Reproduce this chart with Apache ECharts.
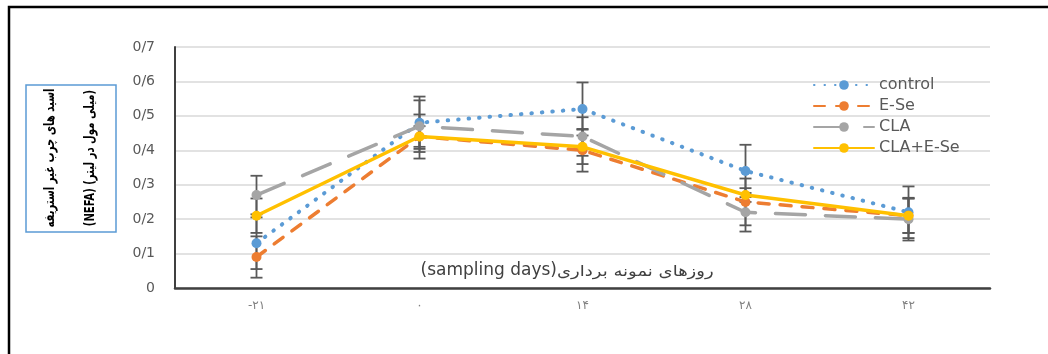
<!DOCTYPE html>
<html>
<head>
<meta charset="utf-8">
<script src="https://cdn.jsdelivr.net/npm/echarts@6/dist/echarts.min.js"></script>
<style>
  html, body { margin: 0; padding: 0; background: #fff; }
  #chart { width: 1048px; height: 354px; }
</style>
</head>
<body>
<div id="chart"></div>
<script>
// Sampling days (Persian digits) on the category axis
const days = ['-۲۱', '۰', '۱۴', '۲۸', '۴۲'];

// NEFA means per treatment
const control = [0.13, 0.48, 0.52, 0.34, 0.22];
const eSe     = [0.09, 0.44, 0.40, 0.25, 0.21];
const cla     = [0.27, 0.47, 0.44, 0.22, 0.20];
const claESe  = [0.21, 0.44, 0.41, 0.27, 0.21];

// Error bar half-widths (±)
const controlErr = [0.075, 0.076, 0.077, 0.076, 0.075];
const eSeErr     = [0.060, 0.064, 0.062, 0.068, 0.050];
const claErr     = [0.056, 0.075, 0.056, 0.056, 0.062];
const claESeErr  = [0.050, 0.030, 0.050, 0.020, 0.050];

// Value axis tick labels (slash as decimal separator)
const yTicks = ['0', '0/1', '0/2', '0/3', '0/4', '0/5', '0/6', '0/7'];

const names = ['control', 'E-Se', 'CLA', 'CLA+E-Se'];
const colors = ['#5B9BD5', '#ED7D31', '#A5A5A5', '#FFC000'];
const values = [control, eSe, cla, claESe];
const errs = [controlErr, eSeErr, claErr, claESeErr];

const lineStyles = [
  { width: 4, type: [0.5, 10], cap: 'round' },
  { width: 3.5, type: [11, 11], cap: 'round' },
  { width: 3.5, type: [30, 20], cap: 'round' },
  { width: 3.5, type: 'solid', cap: 'round' }
];

const chart = echarts.init(document.getElementById('chart'), null, { renderer: 'canvas' });

const lineSeries = names.map((n, k) => ({
  name: n,
  type: 'line',
  data: values[k],
  symbol: 'circle',
  symbolSize: 10,
  z: 3 + k,
  itemStyle: { color: colors[k] },
  lineStyle: Object.assign({ color: colors[k] }, lineStyles[k]),
  emphasis: { disabled: true }
}));

const errSeries = names.map((n, k) => ({
  type: 'custom',
  z: 2,
  silent: true,
  data: values[k].map((v, i) => [i, v - errs[k][i], v + errs[k][i]]),
  renderItem: function (params, api) {
    const lo = api.coord([api.value(0), api.value(1)]);
    const hi = api.coord([api.value(0), api.value(2)]);
    const cap = 6;
    const st = { stroke: '#595959', lineWidth: 1.8 };
    return {
      type: 'group',
      children: [
        { type: 'line', shape: { x1: lo[0], y1: lo[1], x2: hi[0], y2: hi[1] }, style: st },
        { type: 'line', shape: { x1: lo[0] - cap, y1: lo[1], x2: lo[0] + cap, y2: lo[1] }, style: st },
        { type: 'line', shape: { x1: hi[0] - cap, y1: hi[1], x2: hi[0] + cap, y2: hi[1] }, style: st }
      ]
    };
  }
}));

const option = {
  backgroundColor: '#ffffff',
  animation: false,
  grid: { left: 175, right: 58, top: 47, bottom: 66 },
  legend: {
    data: names,
    orient: 'vertical',
    left: 808,
    top: 72,
    itemWidth: 60,
    itemHeight: 12,
    itemGap: 5,
    textStyle: { color: '#595959', fontSize: 16, fontFamily: 'DejaVu Sans' }
  },
  xAxis: {
    type: 'category',
    data: days,
    boundaryGap: true,
    axisLine: { lineStyle: { color: '#404040', width: 2.5 } },
    axisTick: { show: false },
    axisLabel: { color: '#808080', fontSize: 12, fontFamily: 'DejaVu Sans', margin: 12 }
  },
  yAxis: {
    type: 'value',
    min: 0,
    max: 0.7,
    interval: 0.1,
    axisLine: { show: true, lineStyle: { color: '#404040', width: 2 } },
    axisTick: { show: false },
    splitLine: { lineStyle: { color: '#D9D9D9', width: 1.5 } },
    axisLabel: {
      color: '#595959',
      fontSize: 14,
      fontFamily: 'DejaVu Sans',
      margin: 20,
      formatter: function (v) { return yTicks[Math.round(v * 10)]; }
    }
  },
  graphic: [
    {
      type: 'rect',
      shape: { x: 9, y: 7, width: 1100, height: 400 },
      style: { fill: 'none', stroke: '#000000', lineWidth: 2.5 },
      silent: true
    },
    {
      type: 'rect',
      shape: { x: 26, y: 85, width: 90, height: 147 },
      style: { fill: '#ffffff', stroke: '#5B9BD5', lineWidth: 1.5 },
      silent: true
    },
    {
      type: 'text',
      x: 50, y: 158, rotation: Math.PI / 2, scaleX: 0.8,
      style: {
        text: 'اسید های چرب غیر استریفه',
        fill: '#000000', font: 'bold 14px "DejaVu Sans Condensed", "DejaVu Sans"',
        align: 'center', verticalAlign: 'middle'
      },
      silent: true
    },
    {
      type: 'text',
      x: 90, y: 158, rotation: Math.PI / 2, scaleX: 0.8,
      style: {
        text: '(NEFA) (میلی مول در لیتر)',
        fill: '#000000', font: 'bold 14px "DejaVu Sans Condensed", "DejaVu Sans"',
        align: 'center', verticalAlign: 'middle'
      },
      silent: true
    },
    {
      type: 'text',
      x: 557, y: 271,
      style: {
        text: '(sampling days)',
        fill: '#404040', font: '17px "DejaVu Sans"',
        align: 'right', verticalAlign: 'middle'
      },
      silent: true
    },
    {
      type: 'text',
      x: 557, y: 272, scaleX: 1.2,
      style: {
        text: 'روزهای نمونه برداری',
        fill: '#404040', font: '15px "DejaVu Sans"',
        align: 'left', verticalAlign: 'middle'
      },
      silent: true
    }
  ],
  series: errSeries.concat(lineSeries)
};

chart.setOption(option);
</script>
</body>
</html>
